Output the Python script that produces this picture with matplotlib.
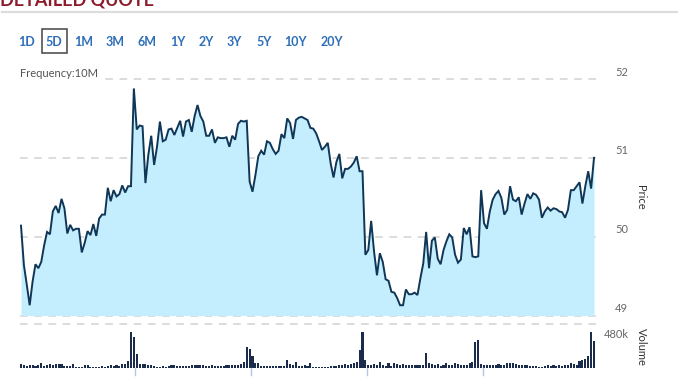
import numpy as np
import matplotlib
matplotlib.use("Agg")
import matplotlib.pyplot as plt
import matplotlib.transforms as mtransforms

plt.rcParams['font.family'] = ['Lato', 'DejaVu Sans']

# ---------------- data ----------------
ranges = ["1D", "5D", "1M", "3M", "6M", "1Y", "2Y", "3Y", "5Y", "10Y", "20Y"]
selected_range = "5D"
frequency_label = "Frequency:10M"
price_ticks = [49, 50, 51, 52]
volume_tick = 480  # thousands
volume_tick_label = "480k"

day1_price = [50.14, 49.64, 49.39, 49.13, 49.43, 49.65, 49.60, 49.68, 49.89, 50.06,
              50.03, 50.32, 50.39, 50.30, 50.48, 50.36, 50.04, 50.15, 50.08, 50.10,
              50.10, 49.80, 49.92, 50.07, 50.02, 50.16, 50.01, 50.23, 50.28, 50.28,
              50.62, 50.45, 50.59, 50.51, 50.54, 50.65, 50.56, 50.64, 50.64]
day2_price = [51.88, 51.36, 51.41, 51.40, 50.68, 51.04, 51.28, 50.91, 51.14, 51.46,
              51.21, 51.23, 51.36, 51.37, 51.29, 51.38, 51.47, 51.27, 51.46, 51.48,
              51.33, 51.53, 51.67, 51.53, 51.46, 51.28, 51.28, 51.36, 51.19, 51.26,
              51.25, 51.25, 51.26, 51.14, 51.28, 51.23, 51.43, 51.47, 51.46, 51.47]
day3_price = [50.70, 50.57, 50.78, 51.02, 51.09, 51.04, 51.21, 51.19, 51.11, 51.05,
              51.09, 51.30, 51.25, 51.50, 51.44, 51.24, 51.48, 51.51, 51.52, 51.50,
              51.48, 51.38, 51.37, 51.31, 51.21, 51.10, 51.14, 51.19, 50.93, 50.75,
              50.95, 51.05, 50.74, 50.86, 50.86, 50.89, 50.94, 51.02, 50.83, 50.83]
day4_price = [49.77, 49.83, 50.20, 49.81, 49.51, 49.79, 49.68, 49.46, 49.44, 49.30,
              49.29, 49.22, 49.13, 49.13, 49.33, 49.27, 49.27, 49.29, 49.26, 49.47,
              49.66, 50.06, 49.60, 49.95, 49.99, 49.72, 49.65, 49.83, 49.94, 50.03,
              49.99, 49.77, 49.67, 49.71, 50.11, 50.03, 50.12, 49.75, 49.74, 49.75]
day5_price = [50.59, 50.17, 50.10, 50.32, 50.47, 50.54, 50.58, 50.49, 50.28, 50.34,
              50.64, 50.47, 50.45, 50.50, 50.28, 50.42, 50.54, 50.48, 50.55, 50.53,
              50.47, 50.24, 50.32, 50.37, 50.33, 50.36, 50.35, 50.32, 50.31, 50.24,
              50.34, 50.59, 50.59, 50.64, 50.69, 50.42, 50.64, 50.83, 50.61, 51.00]

# volume in thousands
day1_volume = [53, 49, 24, 44, 44, 24, 39, 78, 24, 44, 53, 39, 63, 58, 63, 29, 29, 34, 58, 19,
               19, 19, 49, 49, 15, 15, 15, 15, 24, 19, 24, 39, 24, 49, 29, 58, 58, 107, 520]
day2_volume = [450, 200, 58, 58, 58, 49, 49, 24, 20, 20, 24, 20, 24, 39, 39, 29, 24, 29, 24, 29,
               39, 39, 44, 39, 39, 34, 34, 39, 29, 34, 29, 34, 39, 39, 49, 39, 49, 58, 87, 310]
day3_volume = [270, 170, 68, 68, 24, 34, 24, 24, 24, 24, 24, 34, 34, 120, 58, 39, 87, 29, 24, 39,
               24, 73, 20, 20, 15, 20, 15, 15, 24, 34, 29, 39, 49, 58, 49, 58, 68, 82, 260, 520]
day4_volume = [120, 39, 49, 58, 49, 87, 39, 24, 68, 24, 68, 58, 49, 58, 49, 39, 39, 39, 49, 49,
               49, 218, 78, 58, 49, 63, 29, 39, 78, 49, 49, 73, 58, 49, 49, 49, 73, 87, 378, 412]
day5_volume = [58, 39, 49, 49, 39, 39, 58, 39, 39, 78, 68, 68, 58, 39, 39, 49, 49, 29, 24, 24,
               19, 19, 34, 39, 24, 39, 34, 39, 24, 39, 39, 68, 58, 39, 97, 121, 136, 170, 524, 398]

days_price = [day1_price, day2_price, day3_price, day4_price, day5_price]
days_volume = [day1_volume, day2_volume, day3_volume, day4_volume, day5_volume]

price = np.concatenate(days_price)
volume = np.concatenate(days_volume)
idx = np.arange(len(price))
day_starts = np.cumsum([len(d) for d in days_price])[:-1]

# ---------------- layout ----------------
W, H = 678, 381
fig = plt.figure(figsize=(W / 100, H / 100), dpi=100)
fig.patch.set_facecolor('white')

def fx(px):
    return px / W

def fy(py):
    return 1 - py / H

x_left, x_right = 20, 597
y_top_p, y_bot_p = 79, 315.5
y_top_v, y_bot_v = 324, 368

ax = fig.add_axes([fx(x_left), fy(y_bot_p), (x_right - x_left) / W, (y_bot_p - y_top_p) / H])
axv = fig.add_axes([fx(x_left), fy(y_bot_v), (x_right - x_left) / W, (y_bot_v - y_top_v) / H], sharex=ax)

n = len(price)
step = (594 - 21) / (n - 1)
xlim = (-(21 - x_left) / step, (n - 1) + (x_right - 594) / step)

line_col = '#0f3657'
fill_col = '#c4eefd'
grid_col = '#d2d2d2'
dash = (0, (5, 4.3))

for a in (ax, axv):
    a.set_facecolor('none')
    for s in a.spines.values():
        s.set_visible(False)
    a.set_xticks([])
    a.set_yticks([])

ax.set_xlim(*xlim)
ax.set_ylim(price_ticks[0], price_ticks[-1])
for t in price_ticks:
    ax.axhline(t, color=grid_col, lw=1.1, ls=dash, clip_on=False, zorder=1)
ax.fill_between(idx, price, price_ticks[0], color=fill_col, lw=0, zorder=2)
ax.plot(idx, price, color=line_col, lw=1.4, zorder=3, solid_joinstyle='miter')

# price labels on the right
for t in price_ticks:
    tr = mtransforms.blended_transform_factory(fig.transFigure, ax.transData)
    tr = tr + mtransforms.ScaledTranslation(0, 7 / 100, fig.dpi_scale_trans)
    ax.text(fx(621.5), t, str(t), transform=tr, ha='center', va='center',
            fontsize=8, color='#666666', clip_on=False)

# volume
vmax = volume_tick * (y_bot_v - y_top_v) / (y_bot_v - 335)
axv.set_ylim(0, vmax)
axv.bar(idx, volume, width=0.72, color='#1b2b4b', edgecolor='none', zorder=2)
axv.axhline(vmax, color=grid_col, lw=1.1, ls=dash, clip_on=False, zorder=1)
trv = mtransforms.blended_transform_factory(axv.transData, axv.transAxes)
for ds in day_starts:
    axv.plot([ds + 0.5, ds + 0.5], [0, -7 / (y_bot_v - y_top_v)], transform=trv,
             color='#b3c7e0', lw=1.0, clip_on=False)
trl = mtransforms.blended_transform_factory(fig.transFigure, axv.transData)
axv.text(fx(616.5), volume_tick, volume_tick_label, transform=trl, ha='center', va='center',
         fontsize=8, color='#666666', clip_on=False)

# axis titles
fig.text(fx(640), fy(197), "Price", rotation=-90, ha='center', va='center', fontsize=8, color='#333333')
fig.text(fx(641), fy(347), "Volume", rotation=-90, ha='center', va='center', fontsize=8, color='#333333')

# frequency label with white background covering the grid line
fig.text(fx(20), fy(73.5), frequency_label, ha='left', va='center', fontsize=8, color='#555555',
         bbox=dict(facecolor='white', edgecolor='none', pad=1.5), zorder=5)

# header
fig.text(fx(0), fy(5), "DETAILED QUOTE", ha='left', va='baseline', fontsize=13,
         fontweight='bold', color='#8c1c2b')
fig.add_artist(plt.Line2D([fx(2), fx(678)], [fy(11.7), fy(11.7)], transform=fig.transFigure,
                          color='#dddddd', lw=1.6))

# range buttons
range_x = [26.7, 54.3, 83.3, 115, 146.7, 177.7, 206, 234.3, 264, 295, 331.7]
for label, xp in zip(ranges, range_x):
    fig.text(fx(xp), fy(42.3), label, ha='center', va='center', fontsize=9,
             fontweight='bold', color='#2f6fb8')
    if label == selected_range:
        fig.add_artist(plt.Rectangle((fx(41.7), fy(52.7)), (66.7 - 41.7) / W, (52.7 - 29.3) / H,
                                     transform=fig.transFigure, fill=False,
                                     edgecolor='#444444', lw=1.1))

fig.savefig("out.png", dpi=100, facecolor='white')
